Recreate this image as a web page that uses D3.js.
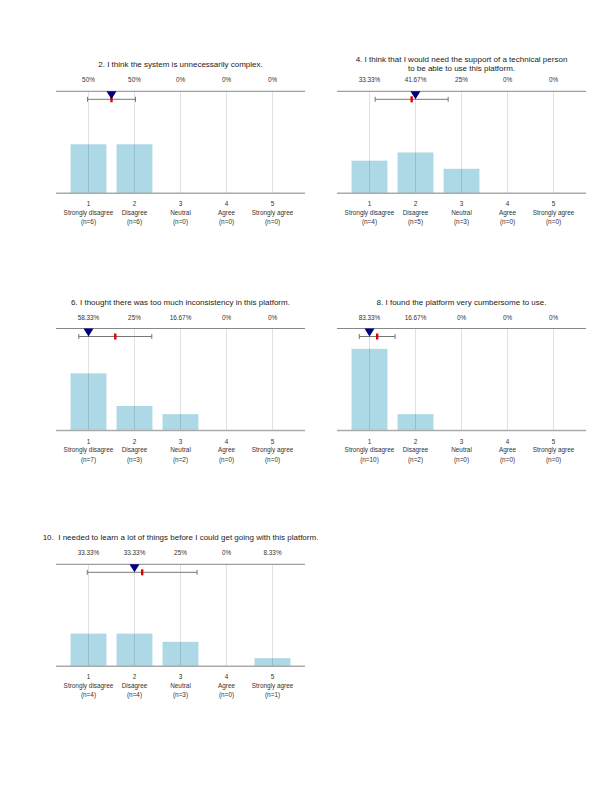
<!DOCTYPE html>
<html><head><meta charset="utf-8">
<script src="https://cdn.jsdelivr.net/npm/d3@7"></script>
<style>
html,body{margin:0;padding:0;background:#fff;}
svg{display:block;font-family:"Liberation Sans",Arial,sans-serif;}
</style></head>
<body>
<svg id="chart" width="615" height="800"></svg>
<script>
const titles = [
  ["2. I think the system is unnecessarily complex."],
  ["4. I think that I would need the support of a technical person", "to be able to use this platform."],
  ["6. I thought there was too much inconsistency in this platform."],
  ["8. I found the platform very cumbersome to use."],
  ["10.  I needed to learn a lot of things before I could get going with this platform."]
];
const codes = [1, 2, 3, 4, 5];
const categories = ["Strongly disagree", "Disagree", "Neutral", "Agree", "Strongly agree"];
const counts = [
  [6, 6, 0, 0, 0],
  [4, 5, 3, 0, 0],
  [7, 3, 2, 0, 0],
  [10, 2, 0, 0, 0],
  [4, 4, 3, 0, 1]
];
const medians = [1.5, 2, 1, 1, 2];
const means = [1.5, 1.917, 1.583, 1.167, 2.167];
const sds = [0.522, 0.793, 0.793, 0.389, 1.193];

const panelX = [56, 337, 56, 337, 56];
const panelTop = [91.3, 91.3, 328.5, 328.5, 564.3];
const W = 249, H = 102;

const svg = d3.select("#chart");
const fmtPct = v => (+v.toFixed(2)) + "%";

titles.forEach((t, i) => {
  const g = svg.append("g").attr("transform", `translate(${panelX[i]},${panelTop[i]})`);
  const x = d3.scaleBand().domain(codes).range([0, W]).paddingInner(0.22).paddingOuter(0.316);
  const cx = d => x(d) + x.bandwidth() / 2;
  const step = x.step();
  const xc = v => cx(1) + (v - 1) * step; // continuous position along the codes
  const total = d3.sum(counts[i]);
  const y = d3.scaleLinear().domain([0, 100]).range([H, H - 98]);
  const pct = counts[i].map(c => c / total * 100);

  // title
  const tt = g.append("text").attr("x", W / 2).attr("text-anchor", "middle")
    .attr("font-size", 8).attr("fill", "#222").style("white-space", "pre");
  const nl = t.length;
  t.forEach((line, k) => {
    tt.append("tspan").attr("x", W / 2)
      .attr("y", nl === 1 ? -24 : -29.5 + k * 9.5)
      .text(line);
  });

  // percent labels
  g.selectAll("text.pct").data(codes).enter().append("text")
    .attr("class", "pct").attr("x", d => cx(d)).attr("y", -9)
    .attr("text-anchor", "middle").attr("font-size", 6.4).attr("fill", "#333")
    .text((d, j) => fmtPct(pct[j]));

  // bars
  g.selectAll("rect.bar").data(codes).enter().append("rect")
    .attr("class", "bar").attr("x", d => x(d)).attr("width", x.bandwidth())
    .attr("y", (d, j) => y(pct[j])).attr("height", (d, j) => H - y(pct[j]))
    .attr("fill", "#ADD8E6");

  // gridlines
  g.selectAll("line.grid").data(codes).enter().append("line")
    .attr("x1", d => cx(d)).attr("x2", d => cx(d)).attr("y1", 0).attr("y2", H)
    .attr("stroke", "#000").attr("stroke-opacity", 0.12).attr("stroke-width", 1);

  // top and bottom lines
  g.append("line").attr("x1", 0).attr("x2", W).attr("y1", 0).attr("y2", 0)
    .attr("stroke", "#888").attr("stroke-width", 1);
  g.append("line").attr("x1", 0).attr("x2", W).attr("y1", H).attr("y2", H)
    .attr("stroke", "#aaa").attr("stroke-width", 1.6);

  // axis labels
  const lab = g.selectAll("g.lab").data(codes).enter().append("g")
    .attr("transform", d => `translate(${cx(d)},${H})`);
  lab.append("text").attr("y", 13).attr("text-anchor", "middle").attr("font-size", 6.4).attr("fill", "#333").text(d => d);
  lab.append("text").attr("y", 21.6).attr("text-anchor", "middle").attr("font-size", 6.4).attr("fill", "#333").text((d, j) => categories[j]);
  lab.append("text").attr("y", 31).attr("text-anchor", "middle").attr("font-size", 6.4).attr("fill", "#333").text((d, j) => `(n=${counts[i][j]})`);

  // error bar (mean ± sd)
  const ey = 8;
  const lo = xc(means[i] - sds[i]), hi = xc(means[i] + sds[i]);
  g.append("line").attr("x1", lo).attr("x2", hi).attr("y1", ey).attr("y2", ey)
    .attr("stroke", "#777").attr("stroke-width", 1);
  [lo, hi].forEach(px => g.append("line").attr("x1", px).attr("x2", px)
    .attr("y1", ey - 2.5).attr("y2", ey + 2.5).attr("stroke", "#777").attr("stroke-width", 1));

  // mean (red tick)
  g.append("rect").attr("x", xc(means[i]) - 1.2).attr("y", ey - 3).attr("width", 2.4).attr("height", 6)
    .attr("fill", "#e00000");

  // median (navy triangle)
  const mx = xc(medians[i]);
  g.append("path").attr("d", `M${mx - 5},0 L${mx + 5},0 L${mx},8 Z`).attr("fill", "#000080");
});
</script>
</body></html>
